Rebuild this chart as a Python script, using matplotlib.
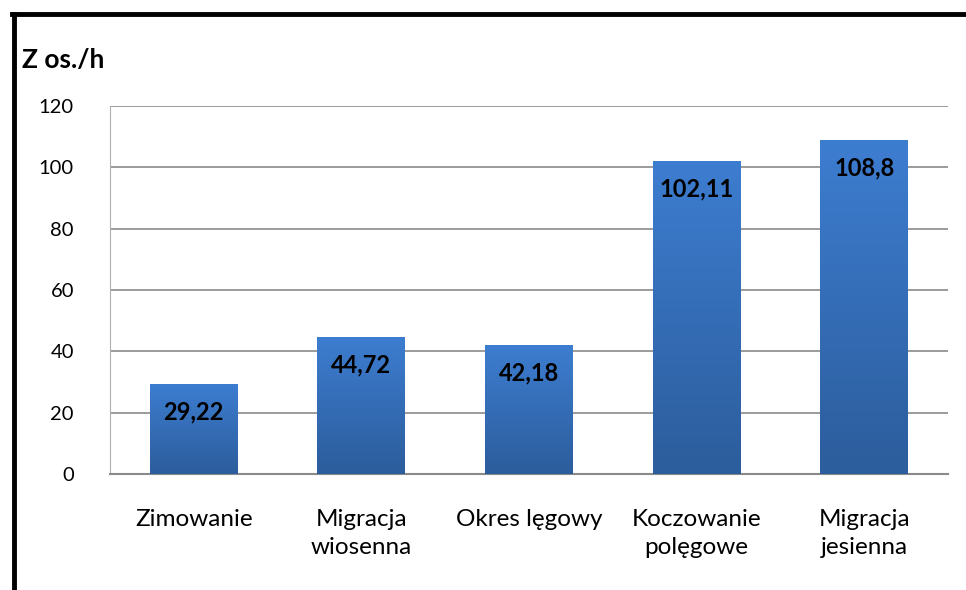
import numpy as np
import matplotlib.pyplot as plt
from matplotlib.lines import Line2D
from matplotlib.colors import LinearSegmentedColormap

categories = ['Zimowanie', 'Migracja\nwiosenna', 'Okres lęgowy', 'Koczowanie\npolęgowe', 'Migracja\njesienna']
values = [29.22, 44.72, 42.18, 102.11, 108.8]
labels = ['29,22', '44,72', '42,18', '102,11', '108,8']

plt.rcParams['font.family'] = ['Lato', 'DejaVu Sans']

fig = plt.figure(figsize=(9.66, 5.90), dpi=100)
ax = fig.add_axes([0.1139, 0.1966, 0.8675, 0.6237])

x = np.arange(len(values))
bars = ax.bar(x, values, width=0.525, color='none', zorder=3)

# vertical gradient inside each bar
grad = np.linspace(0, 1, 256).reshape(-1, 1)
cmap = LinearSegmentedColormap.from_list('b', ['#2c5d9c', '#3d7dd0'])
for b in bars:
    x0, y0 = b.get_x(), b.get_y()
    w, h = b.get_width(), b.get_height()
    im = ax.imshow(grad, extent=[x0, x0 + w, y0, y0 + h], origin='lower',
                   cmap=cmap, aspect='auto', zorder=3)
    im.set_clip_path(b)

for xi, v, lab in zip(x, values, labels):
    ax.annotate(lab, (xi, v), xytext=(0, -20), textcoords='offset points',
                ha='center', va='center', fontsize=17, fontweight='bold',
                color='black', zorder=4)

ax.set_xlim(-0.5, len(values) - 0.5)
ax.set_ylim(0, 120)
ax.set_yticks(range(0, 121, 20))
ax.yaxis.grid(True, color='#8a8a8a', linewidth=1.2, zorder=0)
ax.set_xticks(x)
ax.set_xticklabels(categories, fontsize=17.5, linespacing=1.45)
ax.tick_params(axis='y', labelsize=14.5, length=0, pad=26)
ax.tick_params(axis='x', length=0, pad=25)
for s in ['top', 'right']:
    ax.spines[s].set_visible(False)
ax.spines['left'].set_color('#b0b0b0')
ax.spines['left'].set_linewidth(0.8)
ax.spines['bottom'].set_color('#8a8a8a')
ax.spines['bottom'].set_linewidth(1.5)

fig.text(22 / 966, 1 - 60 / 590, 'Z os./h', fontsize=19, fontweight='bold',
         ha='left', va='center')

# outer black frame (cut off at right and bottom)
fig.add_artist(Line2D([14 / 966, 14 / 966], [0, 1 - 14 / 590], color='black',
                      linewidth=3.5, transform=fig.transFigure))
fig.add_artist(Line2D([12 / 966, 1], [1 - 14 / 590, 1 - 14 / 590], color='black',
                      linewidth=3.5, transform=fig.transFigure))

fig.savefig('out.png', dpi=100)
